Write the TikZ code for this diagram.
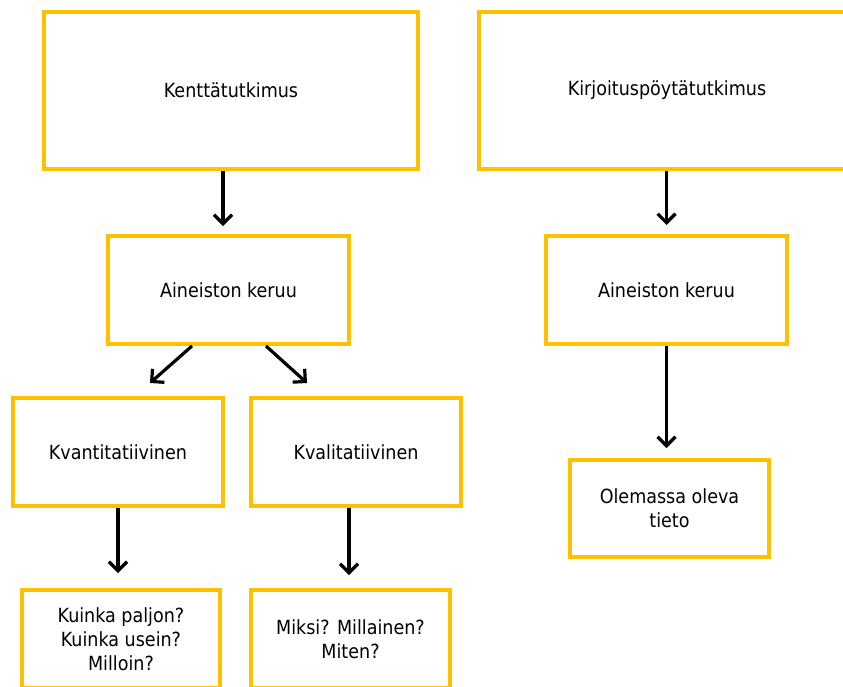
\documentclass[tikz,border=0pt]{standalone}
\usepackage{fontspec}
\setmainfont{DejaVu Sans Condensed}
\usetikzlibrary{arrows.meta}
\definecolor{boxyellow}{HTML}{FFC000}
\begin{document}
\begin{tikzpicture}[x=1pt,y=-1pt,
  box/.style={draw=boxyellow,line width=4pt,fill=white,inner sep=0pt,
    align=center,font=\fontsize{19.5}{24}\selectfont},
  arr/.style={line width=3.2pt,black,-{Straight Barb[length=9pt,width=18pt,line width=3.2pt]}}]
\clip (0,0) rectangle (843,686);
\fill[white] (0,0) rectangle (843,686);
\node[box,minimum width=374pt,minimum height=157pt] (K) at (231,90.5) {Kenttätutkimus};
\node[box,minimum width=376pt,minimum height=157pt] (KP) at (667,90.5) {Kirjoituspöytätutkimus};
\node[box,minimum width=241pt,minimum height=108pt] (AL) at (228.5,290) {Aineiston keruu};
\node[box,minimum width=241pt,minimum height=108pt] (AR) at (666.5,290) {Aineiston keruu};
\node[box,minimum width=210pt,minimum height=108pt] (KV) at (118,452) {Kvantitatiivinen};
\node[box,minimum width=210pt,minimum height=108pt] (KL) at (356,452) {Kvalitatiivinen};
\node[box,minimum width=199pt,minimum height=97pt] (OT) at (669.5,508.5) {Olemassa oleva\\tieto};
\node[box,minimum width=198pt,minimum height=98pt] (BL) at (121,639) {Kuinka paljon?\\Kuinka usein?\\Milloin?};
\node[box,minimum width=199pt,minimum height=98pt] (BM) at (350.5,639) {Miksi? Millainen?\\Miten?};
\draw[arr] ([xshift=-8pt]K.south) -- ([xshift=-5.5pt,yshift=8pt]AL.north);
\draw[arr] ([xshift=-0.5pt]KP.south) -- ([yshift=9pt]AR.north);
\draw[arr] ([xshift=-36.5pt]AL.south) -- ([xshift=32pt,yshift=13pt]KV.north);
\draw[arr] ([xshift=37.5pt]AL.south) -- ([xshift=-49pt,yshift=13pt]KL.north);
\draw[arr] (KV.south) -- ([xshift=-3pt,yshift=15pt]BL.north);
\draw[arr] ([xshift=-7pt]KL.south) -- ([xshift=-1.5pt,yshift=13pt]BM.north);
\draw[arr] (AR.south) -- ([xshift=-3pt,yshift=10pt]OT.north);
\end{tikzpicture}
\end{document}
